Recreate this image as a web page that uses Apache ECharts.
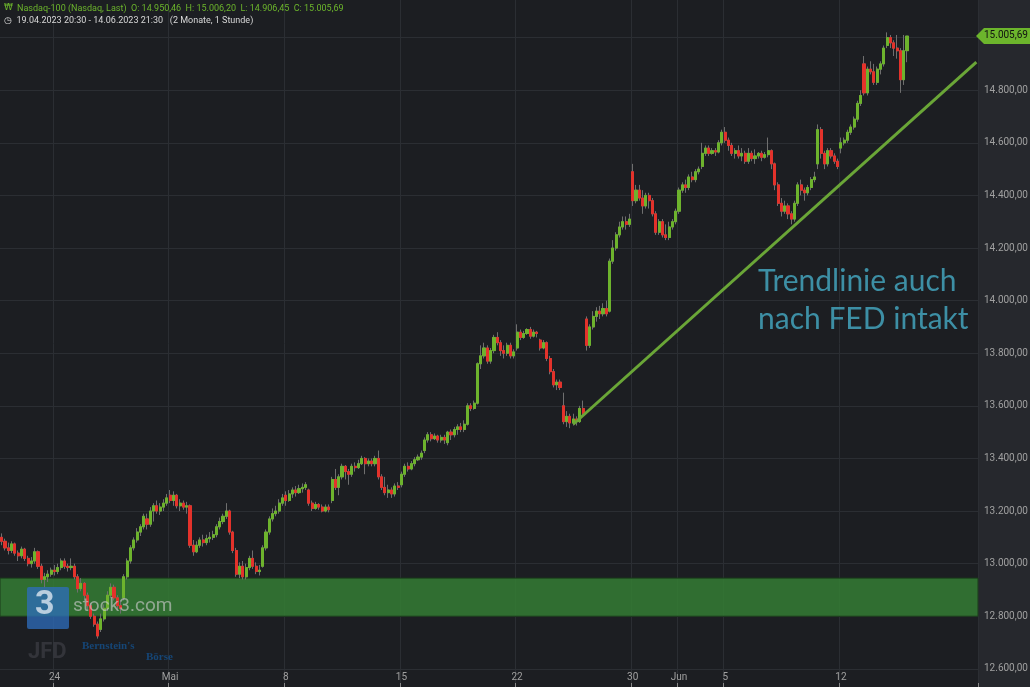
<!DOCTYPE html>
<html><head><meta charset="utf-8">
<script src="https://cdn.jsdelivr.net/npm/echarts@6/dist/echarts.min.js"></script>
<style>html,body{margin:0;padding:0;background:#1c1e22}#c{width:1030px;height:687px}</style>
</head><body><div id="c"></div>
<script>
// trading days (date, number of hourly bars)
const days = ['19.04','20.04','21.04','24.04','25.04','26.04','27.04','28.04','01.05','02.05','03.05','04.05','05.05','08.05','09.05','10.05','11.05','12.05','15.05','16.05','17.05','18.05','19.05','22.05','23.05','24.05','25.05','26.05','30.05','31.05','01.06','02.06','05.06','06.06','07.06','08.06','09.06','12.06','13.06','14.06'];
const hours = ['15:30','16:30','17:30','18:30','19:30','20:30','21:30'];
const tickLabels = {'24.04':'24','01.05':'Mai','08.05':'8','15.05':'15','22.05':'22','30.05':'30','01.06':'Jun','05.06':'5','12.06':'12'};
const yTicks = [12600,12800,13000,13200,13400,13600,13800,14000,14200,14400,14600,14800,15000];
// [open, close, low, high]
const ohlc = [
[13100,13085,13070,13115],[13085,13060,13050,13095],
[13060,13050,13035,13080],[13050,13075,13040,13085],[13075,13040,13030,13080],[13040,13030,13010,13050],[13030,13055,13020,13065],[13055,13020,13010,13060],[13020,13000,12990,13030],
[13000,13010,12985,13025],[13010,13045,13000,13060],[13045,12990,12980,13050],[12990,12940,12925,13000],[12940,12950,12910,12965],[12950,12960,12930,12975],[12960,12975,12950,12985],
[12975,12970,12955,12995],[12970,12985,12960,13000],[12985,13010,12975,13020],[13010,12990,12980,13020],[12990,12985,12970,13000],[12985,12990,12975,13020],[12990,12950,12940,13000],
[12950,12905,12890,12960],[12905,12925,12895,12945],[12925,12880,12860,12930],[12880,12840,12825,12890],[12840,12800,12790,12850],[12800,12770,12760,12810],[12770,12725,12715,12780],
[12750,12790,12740,12810],[12790,12830,12780,12845],[12830,12880,12820,12895],[12880,12910,12870,12925],[12910,12870,12860,12920],[12870,12840,12825,12880],[12840,12830,12810,12860],
[12870,12950,12860,12960],[12950,13010,12940,13020],[13010,13060,13000,13070],[13060,13090,13050,13100],[13090,13120,13080,13135],[13120,13140,13105,13150],[13140,13180,13130,13190],
[13170,13150,13130,13190],[13150,13200,13140,13215],[13200,13220,13160,13230],[13220,13200,13190,13240],[13200,13215,13185,13230],[13215,13230,13200,13245],[13230,13250,13220,13265],
[13260,13240,13230,13280],[13240,13260,13220,13275],[13260,13220,13210,13265],[13220,13230,13200,13245],[13230,13215,13205,13240],[13215,13220,13190,13235],[13220,13070,13060,13225],
[13070,13045,13030,13090],[13045,13070,13040,13085],[13070,13090,13060,13100],[13090,13080,13065,13110],[13080,13095,13070,13110],[13095,13100,13080,13120],[13100,13110,13090,13125],
[13110,13140,13100,13150],[13140,13160,13130,13175],[13160,13180,13150,13190],[13180,13200,13170,13230],[13200,13120,13110,13205],[13120,13050,13040,13125],[13050,12960,12950,13060],
[12960,12990,12945,13005],[12990,12950,12940,13010],[12950,12985,12940,13000],[12985,13020,12975,13030],[13020,12990,12980,13050],[12990,12970,12960,13005],[12970,12975,12955,12995],
[12990,13060,12985,13070],[13060,13120,13050,13130],[13120,13170,13110,13180],[13170,13190,13160,13210],[13190,13200,13180,13220],[13200,13230,13190,13245],[13230,13250,13220,13265],
[13260,13240,13220,13275],[13240,13265,13235,13280],[13265,13280,13250,13290],[13280,13270,13255,13295],[13270,13285,13265,13300],[13285,13290,13270,13305],[13290,13300,13280,13310],
[13280,13230,13220,13285],[13230,13210,13200,13240],[13210,13225,13205,13235],[13225,13215,13205,13230],[13215,13200,13195,13225],[13200,13215,13195,13225],[13215,13205,13195,13225],
[13240,13320,13230,13330],[13320,13290,13280,13360],[13290,13330,13260,13340],[13330,13370,13320,13380],[13370,13350,13320,13375],[13350,13340,13300,13360],[13340,13370,13330,13380],
[13370,13365,13350,13385],[13365,13380,13360,13395],[13380,13400,13375,13410],[13400,13380,13340,13405],[13380,13390,13370,13400],[13390,13380,13370,13400],[13380,13400,13370,13410],
[13400,13330,13320,13430],[13330,13290,13280,13340],[13290,13270,13260,13330],[13270,13280,13250,13300],[13280,13265,13250,13290],[13265,13295,13255,13305],[13295,13290,13280,13310],
[13300,13340,13290,13350],[13340,13370,13330,13380],[13370,13360,13350,13385],[13360,13380,13355,13390],[13380,13395,13370,13405],[13395,13405,13390,13415],[13405,13420,13395,13430],
[13430,13470,13420,13480],[13470,13490,13460,13500],[13490,13475,13465,13500],[13475,13485,13470,13495],[13485,13470,13460,13490],[13470,13480,13460,13490],[13480,13470,13455,13490],
[13460,13500,13450,13505],[13500,13490,13470,13510],[13490,13510,13480,13520],[13510,13520,13490,13530],[13520,13510,13500,13535],[13510,13530,13500,13545],[13530,13600,13525,13610],
[13600,13590,13580,13610],[13590,13610,13585,13620],[13610,13760,13605,13765],[13760,13790,13740,13830],[13790,13820,13780,13840],[13820,13770,13760,13830],[13770,13810,13760,13820],
[13810,13860,13800,13870],[13860,13840,13830,13880],[13840,13810,13790,13850],[13810,13800,13780,13830],[13800,13830,13790,13840],[13830,13790,13780,13840],[13790,13805,13780,13815],
[13820,13880,13810,13910],[13880,13860,13850,13890],[13860,13875,13855,13885],[13875,13890,13870,13895],[13890,13865,13855,13900],[13865,13880,13860,13890],[13880,13875,13860,13885],
[13850,13820,13810,13855],[13820,13840,13815,13850],[13840,13780,13770,13845],[13780,13730,13720,13790],[13730,13680,13670,13740],[13680,13690,13660,13700],[13690,13670,13660,13700],
[13600,13540,13530,13650],[13540,13560,13520,13580],[13560,13535,13515,13570],[13535,13550,13525,13570],[13550,13540,13525,13560],[13540,13590,13535,13600],[13590,13570,13560,13620],
[13930,13830,13810,13940],[13830,13900,13820,13910],[13900,13940,13890,13960],[13940,13960,13920,13975],[13960,13950,13930,13980],[13950,13970,13940,13990],[13970,13950,13940,14000],
[13960,14150,13955,14160],[14150,14200,14140,14230],[14200,14250,14190,14260],[14250,14280,14240,14300],[14280,14300,14270,14320],[14300,14290,14270,14320],[14290,14310,14280,14330],
[14490,14380,14360,14520],[14380,14420,14370,14440],[14420,14390,14380,14440],[14390,14360,14330,14420],[14360,14400,14350,14410],[14400,14380,14350,14410],[14380,14330,14320,14390],
[14330,14260,14250,14340],[14260,14300,14250,14310],[14300,14250,14240,14310],[14250,14240,14230,14290],[14240,14280,14230,14300],[14280,14300,14270,14310],[14300,14340,14290,14350],
[14340,14420,14330,14430],[14420,14440,14410,14450],[14440,14430,14410,14460],[14430,14470,14420,14480],[14470,14460,14450,14490],[14460,14490,14450,14500],[14490,14500,14480,14510],
[14510,14560,14500,14600],[14560,14580,14550,14590],[14580,14560,14550,14590],[14560,14570,14555,14580],[14570,14565,14550,14580],[14565,14600,14560,14610],[14600,14640,14590,14650],
[14640,14610,14600,14660],[14610,14590,14570,14620],[14590,14560,14550,14600],[14560,14570,14540,14580],[14570,14550,14540,14590],[14550,14560,14530,14580],[14560,14530,14520,14570],
[14530,14560,14520,14580],[14560,14540,14530,14570],[14540,14550,14520,14575],[14550,14560,14540,14565],[14560,14545,14530,14570],[14545,14555,14540,14565],[14555,14570,14545,14620],
[14570,14520,14500,14575],[14520,14440,14420,14525],[14440,14370,14360,14450],[14370,14340,14320,14390],[14340,14360,14330,14380],[14360,14330,14310,14370],[14330,14310,14290,14340],
[14310,14370,14300,14380],[14370,14440,14360,14450],[14440,14420,14400,14460],[14420,14410,14380,14430],[14410,14430,14400,14440],[14430,14460,14420,14470],[14460,14470,14450,14490],
[14520,14650,14500,14670],[14650,14560,14540,14660],[14560,14520,14500,14570],[14520,14570,14510,14580],[14570,14550,14540,14580],[14550,14530,14520,14560],[14530,14510,14500,14540],
[14580,14600,14560,14620],[14600,14610,14590,14620],[14610,14640,14600,14650],[14640,14660,14630,14670],[14660,14690,14650,14700],[14690,14750,14680,14760],[14750,14780,14740,14800],
[14900,14790,14780,14930],[14790,14880,14780,14890],[14880,14870,14860,14910],[14870,14830,14820,14900],[14830,14880,14820,14890],[14880,14900,14860,14910],[14900,14960,14890,14970],
[14970,15000,14960,15020],[15000,14980,14960,15010],[14980,14960,14930,14990],[14960,14950,14920,15010],[14950,14840,14790,14960],[14840,14950,14820,15010],[14950.46,15005.69,14906.45,15006.2]
];
const supportZone = [12800, 12945];
const trendStart = [173, 13530];
const trendEnd = [295, 14907];
const lastClose = 15005.69;
const yMin = 12531, yMax = 15143;

const cats = [];
days.forEach((d,i)=>{ const hs = i===0 ? hours.slice(5) : hours; hs.forEach(h=>cats.push(d+' '+h)); });
const padBars = 21;
for(let i=0;i<padBars;i++) cats.push('pad'+i);
const isTick = (idx)=>{ const c=cats[idx]; if(!c) return false; const [d,h]=c.split(' '); return h==='15:30' && tickLabels[d]!==undefined; };
const up='#6db32d', down='#e3322b';
const wick = ohlc.map(r=>[r[0],r[1],r[2],r[3]]);
const body = ohlc.map(r=>[r[0],r[1],Math.min(r[0],r[1]),Math.max(r[0],r[1])]);
const fmt = (v)=>v.toLocaleString('de-DE',{minimumFractionDigits:2,maximumFractionDigits:2});

const chart = echarts.init(document.getElementById('c'));
chart.setOption({
  backgroundColor:'#1c1e22', animation:false,
  grid:{left:0,right:52,top:0,bottom:0},
  xAxis:{type:'category',data:cats,boundaryGap:true,
    axisLine:{show:false},
    axisTick:{show:true,inside:true,interval:(i)=>isTick(i),length:4,lineStyle:{color:'#888'}},
    axisLabel:{inside:true,margin:5,interval:(i)=>isTick(i),color:'#a0a0a0',fontSize:10,fontFamily:'Roboto',
      formatter:(v)=>tickLabels[v.split(' ')[0]]||''},
    splitLine:{show:true,interval:(i)=>isTick(i),lineStyle:{color:'#2b2e33'}}},
  yAxis:{type:'value',position:'right',min:yMin,max:yMax,
    axisLine:{show:false},axisTick:{show:false},axisLabel:{show:false},splitLine:{show:false}},
  graphic:[
    {id:'axbg',type:'rect',left:978,top:0,shape:{width:52,height:687},style:{fill:'#26282d'},z:-10,silent:true},
    {id:'h1',type:'text',left:17,top:4,style:{text:'Nasdaq-100 (Nasdaq, Last)  O: 14.950,46  H: 15.006,20  L: 14.906,45  C: 15.005,69',fill:'#6cb52c',font:'9px Roboto'},z:80},
    {id:'h0',type:'text',left:4,top:3,style:{text:'₩',fill:'#6cb52c',font:'9px DejaVu Sans'},z:80},
    {id:'h2',type:'text',left:4,top:16,style:{text:'◷  19.04.2023 20:30 - 14.06.2023 21:30   (2 Monate, 1 Stunde)',fill:'#d8d8d8',font:'9px Roboto'},z:80},
    {id:'l1',type:'rect',left:27,top:587,shape:{width:42,height:42,r:2},style:{fill:'rgba(45,110,190,0.75)'},z:50},
    {id:'l2',type:'text',left:35,top:588,style:{text:'3',fill:'rgba(220,230,240,0.8)',font:'bold 34px Roboto'},z:51},
    {id:'l3',type:'text',left:73,top:597,style:{text:'stock3.com',fill:'rgba(200,200,200,0.65)',font:'19px Roboto'},z:51},
    {id:'l4',type:'text',left:28,top:641,style:{text:'JFD',fill:'rgba(120,120,130,0.25)',font:'bold 22px Roboto'},z:51},
    {id:'l5',type:'text',left:82,top:641,style:{text:"Bernstein's",fill:'rgba(20,80,140,0.8)',font:'bold 11px Liberation Serif'},z:51},
    {id:'l6',type:'text',left:146,top:652,style:{text:'Börse',fill:'rgba(20,80,140,0.8)',font:'bold 11px Liberation Serif'},z:51},
    {id:'t1',type:'text',left:758,top:262,style:{text:'Trendlinie auch\nnach FED intakt',fill:'#3d8fa5',font:'30px Lato',lineHeight:38},z:60}
  ],
  series:[
    {type:'candlestick',data:wick,barWidth:2.6,itemStyle:{color:'#777',color0:'#777',borderColor:'#6f6f6f',borderColor0:'#6f6f6f',borderWidth:1},
      markArea:{silent:true,itemStyle:{color:'rgba(52,125,52,0.85)',borderColor:'#1a3a1a',borderWidth:1},data:[[{yAxis:supportZone[0]},{yAxis:supportZone[1]}]]},
      markLine:{silent:true,symbol:'none',z:0,lineStyle:{color:'#2b2e33',width:1,type:'solid'},
        label:{show:true,position:'end',distance:6,color:'#a0a0a0',fontSize:10,fontFamily:'Roboto',formatter:(p)=>fmt(p.value)},
        data:yTicks.map(v=>({yAxis:v}))},
      z:2},
    {type:'candlestick',data:body,barWidth:2.6,itemStyle:{color:up,color0:down,borderColor:up,borderColor0:down,borderWidth:1},
      markLine:{silent:true,symbol:'none',label:{show:false},lineStyle:{color:'#6aa637',width:3,type:'solid'},
        data:[[{coord:[cats[trendStart[0]],trendStart[1]]},{coord:[cats[trendEnd[0]],trendEnd[1]]}]]},
      z:3}
  ]
});
const py = chart.convertToPixel({yAxisIndex:0},lastClose);
chart.setOption({graphic:[
  {id:'tag',type:'polygon',shape:{points:[[976,py],[984,py-8],[1030,py-8],[1030,py+8],[984,py+8]]},style:{fill:'#6cb52c'},z:70},
  {id:'tagt',type:'text',left:984,top:py-6,style:{text:fmt(lastClose),fill:'#111',font:'10px Roboto'},z:71}
]});
</script></body></html>
